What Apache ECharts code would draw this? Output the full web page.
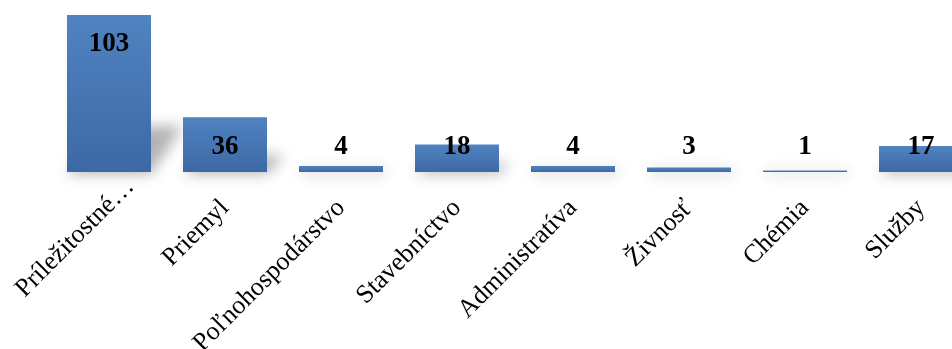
<!DOCTYPE html>
<html>
<head>
<meta charset="utf-8">
<script src="https://cdn.jsdelivr.net/npm/echarts@6/dist/echarts.min.js"></script>
<style>
  html, body { margin: 0; padding: 0; background: #fff; }
  #chart { width: 952px; height: 349px; }
</style>
</head>
<body>
<div id="chart"></div>
<script>
const categories = ['Príležitostné…', 'Priemyl', 'Poľnohospodárstvo', 'Stavebníctvo', 'Administratíva', 'Živnosť', 'Chémia', 'Služby']
const values = [103, 36, 4, 18, 4, 3, 1, 17]

const serif = '"Liberation Serif", "DejaVu Serif", serif'

const myChart = echarts.init(document.getElementById('chart'))

// label inside the bar top when it fits, otherwise sitting above the short bar
const barData = values.map(v => ({
  value: v,
  label: v >= 30
    ? { position: 'insideTop', distance: 16 }
    : { position: 'insideBottom', distance: 11 }
}))

// the truncated first label sits further along its own baseline
const axisData = categories.map((c, i) => i === 0
  ? { value: c, textStyle: { padding: [0, -30, 0, 0] } }
  : c)

const option = {
  animation: false,
  grid: { left: 51, top: 15, width: 928, height: 157, outerBoundsMode: 'none', containLabel: false },
  xAxis: {
    type: 'category',
    data: axisData,
    axisLine: { show: false },
    axisTick: { show: false },
    axisLabel: {
      interval: 0,
      rotate: 45,
      margin: 32,
      color: '#000',
      fontFamily: serif,
      fontSize: 26
    }
  },
  yAxis: {
    type: 'value',
    min: 0,
    max: 103,
    show: false
  },
  series: [
    {
      // perspective shadow cast to the right of each bar
      type: 'custom',
      z: 1,
      silent: true,
      data: values,
      renderItem(params, api) {
        const top = api.coord([api.value(0), api.value(1)])
        const base = api.coord([api.value(0), 0])
        const half = 42
        const h = base[1] - top[1]
        const sh = Math.min(h * 0.3, 46)
        const shift = Math.min(h * 0.25 + 4, 32)
        const off = 3000
        return {
          type: 'polygon',
          shape: {
            points: [
              [base[0] - half - off, base[1] + 2],
              [base[0] + half - off, base[1] + 2],
              [base[0] + half + shift - off, base[1] - sh],
              [base[0] - half + shift - off, base[1] - sh]
            ]
          },
          style: {
            fill: '#000',
            shadowColor: 'rgba(0,0,0,0.3)',
            shadowBlur: 14,
            shadowOffsetX: off,
            shadowOffsetY: 0
          }
        }
      }
    },
    {
      type: 'bar',
      z: 2,
      barWidth: 84,
      data: barData,
      itemStyle: {
        color: {
          type: 'linear',
          x: 0, y: 0, x2: 0, y2: 1,
          colorStops: [
            { offset: 0, color: '#5083c1' },
            { offset: 1, color: '#3c69a5' }
          ]
        }
      },
      label: {
        show: true,
        color: '#000',
        fontFamily: serif,
        fontWeight: 'bold',
        fontSize: 27
      }
    }
  ]
}

myChart.setOption(option)
</script>
</body>
</html>
